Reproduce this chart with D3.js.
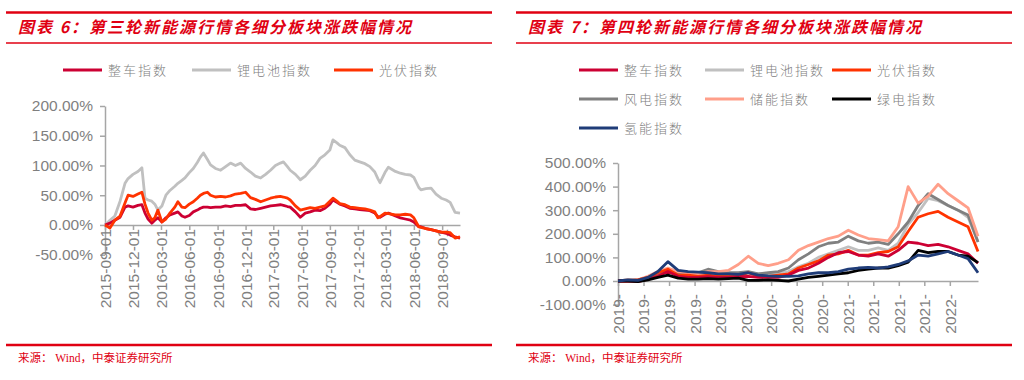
<!DOCTYPE html>
<html>
<head>
<meta charset="utf-8">
<script src="https://cdn.jsdelivr.net/npm/d3@7"></script>
<style>
  body { margin: 0; background: #fff; }
  svg { display: block; }
  .axis path, .axis line { stroke: #a6a6a6; stroke-width: 1.5; }
  .axis text { fill: #7f7f7f; font-family: "Liberation Sans", Arial, sans-serif; font-size: 15.5px; }
  .legend text { fill: #808080; font-family: "Noto Sans CJK SC", sans-serif; font-size: 13px; letter-spacing: 2px; font-weight: 300; }
</style>
</head>
<body>
<svg id="chart" width="1024" height="380"></svg>
<script>
// ---- 图表6: 第三轮 (2015-09 ~ 2018-10) ----
const leftDates = ["2015-09-01","2015-09-17","2015-10-03","2015-10-20","2015-11-05","2015-11-15","2015-12-01","2015-12-17","2015-12-30",
  "2016-01-09","2016-01-19","2016-01-31","2016-02-10","2016-02-20","2016-03-04","2016-03-17","2016-03-30","2016-04-15","2016-04-25",
  "2016-05-08","2016-05-18","2016-06-01","2016-06-14","2016-06-27","2016-07-07","2016-07-17","2016-07-30","2016-08-09","2016-08-25",
  "2016-09-11","2016-09-27","2016-10-13","2016-10-29","2016-11-15","2016-12-01","2016-12-17","2017-01-02","2017-01-19","2017-02-04",
  "2017-02-20","2017-03-08","2017-03-24","2017-04-03","2017-04-16","2017-04-25","2017-05-12","2017-05-28","2017-06-13","2017-06-29",
  "2017-07-15","2017-07-31","2017-08-16","2017-09-01","2017-09-11","2017-09-24","2017-10-03","2017-10-20","2017-11-05","2017-11-21",
  "2017-12-07","2017-12-24","2018-01-09","2018-01-25","2018-02-04","2018-02-11","2018-02-27","2018-03-10","2018-04-02","2018-04-18",
  "2018-05-04","2018-05-21","2018-06-01","2018-06-17","2018-06-24","2018-07-10","2018-07-27","2018-08-12","2018-08-29","2018-09-14",
  "2018-09-27","2018-10-13","2018-10-29"];
const leftZhengche = [0,3,8,13,30,32,30,33,34, 20,10,3,8,12,5,12,17,20,22, 15,13,16,22,25,28,30,30,29,30,
  30,32,31,33,33,34,27,26,28,30, 32,33,34,33,31,30,22,13,20,22, 25,24,28,35,42,38,35,32,28,27,
  26,25,24,20,14,13,18,20,15,12, 10,8,5,-3,-3,-6,-8,-10,-12,-14, -17,-20,-22];
const leftLidian = [0,8,15,40,70,78,85,90,96, 45,42,40,35,25,32,50,58,65,70, 75,79,88,95,105,114,121,110,101,95,
  92,98,104,100,104,95,89,82,79,85, 92,100,104,106,98,92,85,76,82,92, 100,112,118,126,143,138,134,130,118,109,
  106,103,98,89,78,71,88,97,90,87, 85,84,80,63,59,61,62,52,45,42, 38,21,20];
const leftGuangfu = [0,-5,8,15,37,50,48,52,55, 35,20,8,12,25,5,10,20,30,39, 30,29,35,39,45,50,53,55,50,47,
  48,47,49,52,53,55,46,43,39,42, 45,47,48,47,45,42,32,25,27,29, 28,30,32,40,45,40,36,34,30,29,
  28,27,25,22,12,14,20,19,17,17, 18,17,12,-3,-4,-6,-8,-10,-12,-12, -13,-22,-20];
const leftTicks = ["2015-09-01","2015-12-01","2016-03-01","2016-06-01","2016-09-01","2016-12-01","2017-03-01",
  "2017-06-01","2017-09-01","2017-12-01","2018-03-01","2018-06-01","2018-09-01"];
const leftYTicks = [-50, 0, 50, 100, 150, 200];

// ---- 图表7: 第四轮 (2019-01 ~ 2022-05) ----
const rightDates = ["2019-01-02","2019-02-05","2019-03-11","2019-04-14","2019-05-18","2019-06-21","2019-07-26","2019-08-29",
  "2019-10-02","2019-11-05","2019-12-10","2020-01-13","2020-02-16","2020-03-21","2020-04-24","2020-05-28","2020-07-01",
  "2020-08-05","2020-09-08","2020-10-12","2020-11-15","2020-12-19","2021-01-22","2021-02-25","2021-03-31","2021-05-04",
  "2021-06-07","2021-07-11","2021-08-14","2021-09-17","2021-10-21","2021-11-24","2021-12-28","2022-01-31","2022-03-06",
  "2022-04-09","2022-05-13"];
const rightZhengche = [0,0,-3,8,20,40,20,15,15,18,15,15,18,20,15,15,15,25,45,55,75,100,120,125,110,105,115,105,130,165,160,150,155,145,130,115,75];
const rightLidian   = [0,0,5,15,25,40,30,28,25,30,30,25,25,35,30,30,35,40,60,75,100,115,130,145,130,130,140,130,160,240,290,350,340,320,300,270,165];
const rightGuangfu  = [0,0,5,15,35,50,25,25,20,25,20,20,20,35,20,20,25,30,55,70,85,110,115,130,110,110,120,125,145,210,270,285,295,270,250,230,125];
const rightFengdian = [0,5,5,15,30,45,35,35,35,50,40,35,35,40,30,35,40,55,90,115,145,160,165,190,170,160,165,155,200,250,320,370,345,320,300,280,165];
const rightChuneng  = [0,5,5,20,40,55,40,35,30,40,40,45,70,105,75,65,75,90,130,150,165,180,190,215,195,180,175,170,230,400,330,360,410,370,340,310,190];
const rightLvdian   = [0,0,-3,5,15,25,12,8,8,10,8,10,12,3,3,5,3,0,8,15,20,25,30,35,45,50,55,55,65,80,130,120,125,125,110,105,78];
const rightQingneng = [0,5,3,15,40,82,45,40,38,35,30,30,28,35,25,22,20,20,22,30,35,35,40,50,55,58,55,60,70,85,110,105,115,125,110,95,35];
const rightTicks = ["2019-01-02","2019-03-30","2019-06-25","2019-09-20","2019-12-16","2020-03-12","2020-06-07",
  "2020-09-02","2020-11-28","2021-02-23","2021-05-21","2021-08-16","2021-11-11","2022-02-06"];
const rightYTicks = [-100, 0, 100, 200, 300, 400, 500];

const RED = "#e00012";
const parse = d3.timeParse("%Y-%m-%d");
const svg = d3.select("#chart");

//title bar, underline and source line of one panel
function drawFrame(x0, x1, title) {
  svg.append("line").attr("x1", x0).attr("x2", x1).attr("y1", 12.5).attr("y2", 12.5)
    .attr("stroke", RED).attr("stroke-width", 2.5);
  svg.append("line").attr("x1", x0).attr("x2", x1).attr("y1", 43).attr("y2", 43)
    .attr("stroke", RED).attr("stroke-width", 1.5);
  svg.append("text").attr("x", x0 + 12).attr("y", 33).text(title)
    .attr("fill", RED).style("font-family", '"Noto Sans CJK SC", sans-serif')
    .style("font-size", "16px").style("font-weight", "bold").style("font-style", "italic")
    .style("letter-spacing", "2px");
  svg.append("line").attr("x1", x0).attr("x2", x1).attr("y1", 345).attr("y2", 345)
    .attr("stroke", RED).attr("stroke-width", 2.5);
  svg.append("text").attr("x", x0 + 12).attr("y", 362).text("来源： Wind，中泰证券研究所")
    .attr("fill", RED).style("font-family", '"Liberation Serif", "Noto Sans CJK SC", serif')
    .style("font-size", "11.5px");
}

//legend entries: [label, color, x, y]
function drawLegend(items) {
  const g = svg.append("g").attr("class", "legend");
  items.forEach(function (it) {
    g.append("line").attr("x1", it[2]).attr("x2", it[2] + 39).attr("y1", it[3]).attr("y2", it[3])
      .attr("stroke", it[1]).attr("stroke-width", 3);
    g.append("text").attr("x", it[2] + 45).attr("y", it[3]).attr("dy", "0.35em").text(it[0]);
  });
}

function drawPanel(cfg) {
  const dates = cfg.dates.map(parse);
  const x = d3.scaleTime().domain([dates[0], dates[dates.length - 1]]).range(cfg.xRange);
  const y = d3.scaleLinear().domain(cfg.yDomain).range(cfg.yRange);

  svg.append("g").attr("class", "axis")
    .attr("transform", "translate(" + cfg.xRange[0] + ",0)")
    .call(d3.axisLeft(y).tickValues(cfg.yTicks).tickSize(5).tickSizeOuter(0)
      .tickFormat(function (d) { return d.toFixed(2) + "%"; }))
    .selectAll("text").attr("x", -12);

  const xAxis = svg.append("g").attr("class", "axis")
    .attr("transform", "translate(0," + y(0) + ")")
    .call(d3.axisBottom(x).tickValues(cfg.xTicks.map(parse)).tickSize(5).tickSizeOuter(0)
      .tickFormat(cfg.tickFormat));
  xAxis.selectAll("text")
    .attr("transform", "rotate(-90)")
    .attr("text-anchor", "end")
    .attr("x", -cfg.labelGap).attr("y", 0).attr("dy", "0.35em");

  const line = function (vals) {
    return d3.line().x(function (d, i) { return x(dates[i]); }).y(function (d) { return y(d); })(vals);
  };
  cfg.series.forEach(function (s) {
    svg.append("path").attr("d", line(s.values)).attr("fill", "none")
      .attr("stroke", s.color).attr("stroke-width", 2.8).attr("stroke-linejoin", "round");
  });
}

drawFrame(6, 492, "图表 6：第三轮新能源行情各细分板块涨跌幅情况");
drawFrame(516, 1012, "图表 7：第四轮新能源行情各细分板块涨跌幅情况");

const C = { zhengche: "#cc0033", lidian: "#c0c0c0", guangfu: "#ff3300", fengdian: "#808080",
  chuneng: "#ff9f8a", lvdian: "#000000", qingneng: "#1f3c78" };

drawLegend([["整车指数", C.zhengche, 63, 70], ["锂电池指数", C.lidian, 192, 70], ["光伏指数", C.guangfu, 334, 70]]);
drawLegend([["整车指数", C.zhengche, 579, 70], ["锂电池指数", C.lidian, 705, 70], ["光伏指数", C.guangfu, 832, 70],
  ["风电指数", C.fengdian, 579, 99], ["储能指数", C.chuneng, 705, 99], ["绿电指数", C.lvdian, 832, 99],
  ["氢能指数", C.qingneng, 579, 128]]);

drawPanel({
  dates: leftDates, xRange: [105, 460], yDomain: [-50, 200], yRange: [254.7, 106],
  yTicks: leftYTicks, xTicks: leftTicks, labelGap: 4,
  tickFormat: d3.timeFormat("%Y-%m-%d"),
  series: [
    { values: leftLidian, color: C.lidian },
    { values: leftZhengche, color: C.zhengche },
    { values: leftGuangfu, color: C.guangfu }
  ]
});

drawPanel({
  dates: rightDates, xRange: [618, 978], yDomain: [-100, 500], yRange: [304.6, 163],
  yTicks: rightYTicks, xTicks: rightTicks, labelGap: 13,
  tickFormat: d3.timeFormat("%Y-"),
  series: [
    { values: rightLidian, color: C.lidian },
    { values: rightFengdian, color: C.fengdian },
    { values: rightChuneng, color: C.chuneng },
    { values: rightGuangfu, color: C.guangfu },
    { values: rightZhengche, color: C.zhengche },
    { values: rightLvdian, color: C.lvdian },
    { values: rightQingneng, color: C.qingneng }
  ]
});
</script>
</body>
</html>
